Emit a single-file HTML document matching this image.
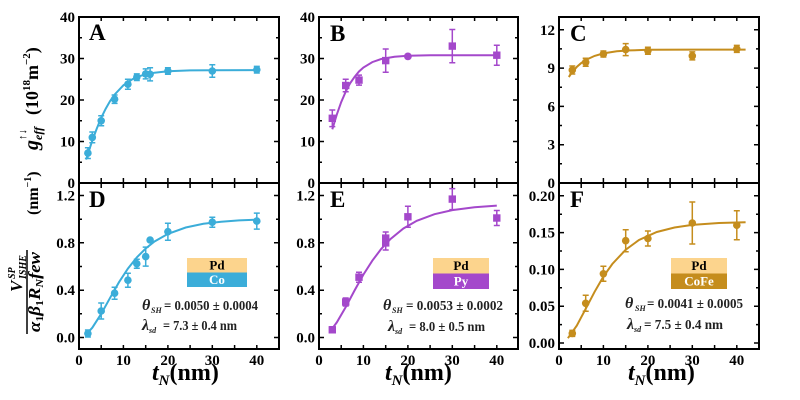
<!DOCTYPE html>
<html><head><meta charset="utf-8"><style>
html,body{margin:0;padding:0;background:#fff;}
svg{display:block;font-family:"Liberation Serif",serif;font-weight:bold;}
</style></head><body>
<svg width="800" height="400" viewBox="0 0 800 400" xmlns="http://www.w3.org/2000/svg">
<rect width="800" height="400" fill="#fff"/>

<!-- ============ CURVES & DATA ============ -->
<!-- A -->
<g stroke="#3BADD9" fill="#3BADD9">
<polyline fill="none" stroke-width="2" points="86.1,159.6 87.9,154 92.3,140.6 96.8,128.5 101.2,117.8 105.7,108.7 110.1,101 114.6,94.6 123.4,85.3 132.3,79.3 141.2,75.6 154.5,72.7 167.9,71.3 190.1,70.4 212.3,70.2 256.8,70.1"/>
<path stroke-width="1.5" fill="none" d="M87.9,147.7V158.5M84.9,147.7H90.9M84.9,158.5H90.9 M92.3,132V142.8M89.3,132H95.3M89.3,142.8H95.3 M101.2,115.8V125.8M98.2,115.8H104.2M98.2,125.8H104.2 M114.6,95V103.4M111.6,95H117.6M111.6,103.4H117.6 M127.9,79.2V89.2M124.9,79.2H130.9M124.9,89.2H130.9 M136.8,73.9V80.5M133.8,73.9H139.8M133.8,80.5H139.8 M145.7,68.9V78.9M142.7,68.9H148.7M142.7,78.9H148.7 M150.1,67.7V80.9M147.1,67.7H153.1M147.1,80.9H153.1 M167.9,67.7V74.3M164.9,67.7H170.9M164.9,74.3H170.9 M212.3,64.8V77.2M209.3,64.8H215.3M209.3,77.2H215.3 M256.8,66.4V73M253.8,66.4H259.8M253.8,73H259.8"/>
<g stroke="none">
<circle cx="87.9" cy="153.1" r="3.8"/><circle cx="92.3" cy="137.4" r="3.8"/><circle cx="101.2" cy="120.8" r="3.8"/><circle cx="114.6" cy="99.2" r="3.8"/><circle cx="127.9" cy="84.2" r="3.8"/><circle cx="136.8" cy="77.2" r="3.8"/><circle cx="145.7" cy="73.9" r="3.8"/><circle cx="150.1" cy="74.3" r="3.8"/><circle cx="167.9" cy="71" r="3.8"/><circle cx="212.3" cy="71" r="3.8"/><circle cx="256.8" cy="69.7" r="3.8"/>
</g></g>

<!-- B -->
<g stroke="#A448CB" fill="#A448CB">
<polyline fill="none" stroke-width="2" points="332.3,129.3 336.8,114.6 341.2,102.1 345.7,91.7 350.1,83.3 354.6,76.8 359,71.5 363.4,67.5 372.3,62.1 381.2,59 394.5,56.8 407.9,55.8 430.1,55.3 452.3,55.2 496.8,55.2"/>
<path stroke-width="1.5" fill="none" d="M332.3,110V126.6M329.3,110H335.3M329.3,126.6H335.3 M345.7,79.3V91.7M342.7,79.3H348.7M342.7,91.7H348.7 M359,75.1V85.1M356,75.1H362M356,85.1H362 M385.7,49V72.2M382.7,49H388.7M382.7,72.2H388.7 M452.3,29.5V62.7M449.3,29.5H455.3M449.3,62.7H455.3 M496.8,45.2V65.2M493.8,45.2H499.8M493.8,65.2H499.8"/>
<g stroke="none">
<rect x="328.6" y="114.6" width="7.4" height="7.4"/><rect x="342" y="81.8" width="7.4" height="7.4"/><rect x="355.3" y="76.4" width="7.4" height="7.4"/><rect x="382" y="56.9" width="7.4" height="7.4"/><circle cx="407.9" cy="56.4" r="3.9"/><rect x="448.6" y="42.4" width="7.4" height="7.4"/><rect x="493.1" y="51.5" width="7.4" height="7.4"/>
</g></g>

<!-- C -->
<g stroke="#C58D1D" fill="#C58D1D">
<polyline fill="none" stroke-width="2" points="568.8,77 572.3,71.9 576.8,66.9 581.2,63.1 585.7,60 594.6,55.9 603.4,53.4 616.8,51.3 630.1,50.4 647.9,49.8 692.3,49.6 745.6,49.6"/>
<path stroke-width="1.5" fill="none" d="M572.3,66V74M569.3,66H575.3M569.3,74H575.3 M585.7,58.3V66.3M582.7,58.3H588.7M582.7,66.3H588.7 M603.4,51V57M600.4,51H606.4M600.4,57H606.4 M625.7,43.6V55.6M622.7,43.6H628.7M622.7,55.6H628.7 M647.9,47.3V54.3M644.9,47.3H650.9M644.9,54.3H650.9 M692.3,51.9V59.9M689.3,51.9H695.3M689.3,59.9H695.3 M736.8,45.4V52.4M733.8,45.4H739.8M733.8,52.4H739.8"/>
<g stroke="none">
<circle cx="572.3" cy="70" r="3.8"/><circle cx="585.7" cy="62.3" r="3.8"/><circle cx="603.4" cy="54" r="3.8"/><circle cx="625.7" cy="49.6" r="3.8"/><circle cx="647.9" cy="50.8" r="3.8"/><circle cx="692.3" cy="55.9" r="3.8"/><circle cx="736.8" cy="48.9" r="3.8"/>
</g></g>

<!-- D -->
<g stroke="#3BADD9" fill="#3BADD9">
<polyline fill="none" stroke-width="2" points="86.6,333.9 92.3,327.7 101.2,313.8 110.1,297.8 119,282.2 127.9,268.6 136.8,257.4 145.7,248.5 154.5,241.5 167.9,233.9 185.7,227.5 203.4,223.8 221.2,221.7 239,220.4 256.8,219.7"/>
<path stroke-width="1.5" fill="none" d="M87.9,330V337M84.9,330H90.9M84.9,337H90.9 M101.2,303V319M98.2,303H104.2M98.2,319H104.2 M114.6,287.2V299.2M111.6,287.2H117.6M111.6,299.2H117.6 M127.9,273.2V287.2M124.9,273.2H130.9M124.9,287.2H130.9 M136.8,259.2V268.2M133.8,259.2H139.8M133.8,268.2H139.8 M145.7,247.1V266.1M142.7,247.1H148.7M142.7,266.1H148.7 M167.9,223.2V240.2M164.9,223.2H170.9M164.9,240.2H170.9 M212.3,217.2V227.2M209.3,217.2H215.3M209.3,227.2H215.3 M256.8,213.1V229.1M253.8,213.1H259.8M253.8,229.1H259.8"/>
<g stroke="none">
<circle cx="87.9" cy="333.5" r="3.8"/><circle cx="101.2" cy="311" r="3.8"/><circle cx="114.6" cy="293.2" r="3.8"/><circle cx="127.9" cy="280.2" r="3.8"/><circle cx="136.8" cy="263.7" r="3.8"/><circle cx="145.7" cy="256.6" r="3.8"/><circle cx="150.1" cy="240" r="3.8"/><circle cx="167.9" cy="231.7" r="3.8"/><circle cx="212.3" cy="222.2" r="3.8"/><circle cx="256.8" cy="221.1" r="3.8"/>
</g></g>

<!-- E -->
<g stroke="#A448CB" fill="#A448CB">
<polyline fill="none" stroke-width="2" points="331,330.2 336.8,322.4 345.7,307.1 354.6,290.4 363.4,274.6 372.3,260.7 381.2,248.9 390.1,239.4 403.4,228.5 416.8,220.8 434.5,214.2 452.3,210.1 474.5,207.2 496.8,205.6"/>
<path stroke-width="1.5" fill="none" d="M332.3,326.8V332.8M329.3,326.8H335.3M329.3,332.8H335.3 M345.7,298V306M342.7,298H348.7M342.7,306H348.7 M359,272.2V282.2M356,272.2H362M356,282.2H362 M385.7,232V250M382.7,232H388.7M382.7,250H388.7 M407.9,206.3V227.3M404.9,206.3H410.9M404.9,227.3H410.9 M452.3,188.6V209.6M449.3,188.6H455.3M449.3,209.6H455.3 M496.8,210.5V225.5M493.8,210.5H499.8M493.8,225.5H499.8"/>
<g stroke="none">
<rect x="328.6" y="326.1" width="7.4" height="7.4"/><rect x="342" y="298.3" width="7.4" height="7.4"/><rect x="355.3" y="273.5" width="7.4" height="7.4"/><rect x="382" y="239.2" width="7.4" height="7.4"/><rect x="382" y="234.4" width="7.4" height="7.4"/><rect x="404.2" y="213.1" width="7.4" height="7.4"/><rect x="448.6" y="195.4" width="7.4" height="7.4"/><rect x="493.1" y="214.3" width="7.4" height="7.4"/>
</g></g>

<!-- F -->
<g stroke="#C58D1D" fill="#C58D1D">
<polyline fill="none" stroke-width="2" points="567.9,338.2 576.8,325.6 585.7,308.8 594.6,291.8 603.4,276.6 612.3,264 625.7,249.7 639,240 656.8,232 674.5,227.5 692.3,224.9 719,223 745.6,222.2"/>
<path stroke-width="1.5" fill="none" d="M572.3,330.4V336.4M569.3,330.4H575.3M569.3,336.4H575.3 M585.7,295.3V311.3M582.7,295.3H588.7M582.7,311.3H588.7 M603.4,266.3V281.3M600.4,266.3H606.4M600.4,281.3H606.4 M625.7,229.7V251.7M622.7,229.7H628.7M622.7,251.7H628.7 M647.9,231V246M644.9,231H650.9M644.9,246H650.9 M692.3,202V244M689.3,202H695.3M689.3,244H695.3 M736.8,210.7V239.7M733.8,210.7H739.8M733.8,239.7H739.8"/>
<g stroke="none">
<circle cx="572.3" cy="333.4" r="3.8"/><circle cx="585.7" cy="303.3" r="3.8"/><circle cx="603.4" cy="273.8" r="3.8"/><circle cx="625.7" cy="240.7" r="3.8"/><circle cx="647.9" cy="238.5" r="3.8"/><circle cx="692.3" cy="223" r="3.8"/><circle cx="736.8" cy="225.2" r="3.8"/>
</g></g>

<!-- ============ FRAMES & TICKS ============ -->
<g fill="none" stroke="#000" stroke-width="2">
<rect x="79" y="17" width="200" height="332"/>
<rect x="319" y="17" width="199" height="332"/>
<rect x="559" y="17" width="200" height="332"/>
<path d="M79,183H279M319,183H518M559,183H759"/>
</g>
<g fill="none" stroke="#000" stroke-width="1.5">
<!-- x ticks: top edges, middle (both sides), bottom -->
<path d="M101.2,17v4M123.4,17v4M145.7,17v4M167.9,17v4M190.1,17v4M212.3,17v4M234.6,17v4M256.8,17v4
M101.2,178v10M123.4,178v10M145.7,178v10M167.9,178v10M190.1,178v10M212.3,178v10M234.6,178v10M256.8,178v10
M101.2,349v-4M123.4,349v-4M145.7,349v-4M167.9,349v-4M190.1,349v-4M212.3,349v-4M234.6,349v-4M256.8,349v-4"/>
<path d="M341.2,17v4M363.4,17v4M385.7,17v4M407.9,17v4M430.1,17v4M452.3,17v4M474.6,17v4M496.8,17v4
M341.2,178v10M363.4,178v10M385.7,178v10M407.9,178v10M430.1,178v10M452.3,178v10M474.6,178v10M496.8,178v10
M341.2,349v-4M363.4,349v-4M385.7,349v-4M407.9,349v-4M430.1,349v-4M452.3,349v-4M474.6,349v-4M496.8,349v-4"/>
<path d="M581.2,17v4M603.4,17v4M625.7,17v4M647.9,17v4M670.1,17v4M692.3,17v4M714.6,17v4M736.8,17v4
M581.2,178v10M603.4,178v10M625.7,178v10M647.9,178v10M670.1,178v10M692.3,178v10M714.6,178v10M736.8,178v10
M581.2,349v-4M603.4,349v-4M625.7,349v-4M647.9,349v-4M670.1,349v-4M692.3,349v-4M714.6,349v-4M736.8,349v-4"/>
<!-- y ticks A/B -->
<path d="M79,162.25h3M79,141.5h5M79,120.75h3M79,100h5M79,79.25h3M79,58.5h5M79,37.75h3
M279,162.25h-3M279,141.5h-5M279,120.75h-3M279,100h-5M279,79.25h-3M279,58.5h-5M279,37.75h-3
M319,162.25h3M319,141.5h5M319,120.75h3M319,100h5M319,79.25h3M319,58.5h5M319,37.75h3
M518,162.25h-3M518,141.5h-5M518,120.75h-3M518,100h-5M518,79.25h-3M518,58.5h-5M518,37.75h-3"/>
<!-- y ticks C -->
<path d="M559,163.8h3M559,144.7h5M559,125.5h3M559,106.4h5M559,87.2h3M559,68.1h5M559,48.9h3M559,29.8h5
M759,163.8h-3M759,144.7h-5M759,125.5h-3M759,106.4h-5M759,87.2h-3M759,68.1h-5M759,48.9h-3M759,29.8h-5"/>
<!-- y ticks D/E -->
<path d="M79,337.5h5M79,313.8h3M79,290.2h5M79,266.5h3M79,242.8h5M79,219.2h3M79,195.5h5
M279,337.5h-5M279,313.8h-3M279,290.2h-5M279,266.5h-3M279,242.8h-5M279,219.2h-3M279,195.5h-5
M319,337.5h5M319,313.8h3M319,290.2h5M319,266.5h3M319,242.8h5M319,219.2h3M319,195.5h5
M518,337.5h-5M518,313.8h-3M518,290.2h-5M518,266.5h-3M518,242.8h-5M518,219.2h-3M518,195.5h-5"/>
<!-- y ticks F -->
<path d="M559,343h5M559,324.6h3M559,306.2h5M559,287.8h3M559,269.4h5M559,251h3M559,232.6h5M559,214.2h3M559,195.8h5
M759,343h-5M759,324.6h-3M759,306.2h-5M759,287.8h-3M759,269.4h-5M759,251h-3M759,232.6h-5M759,214.2h-3M759,195.8h-5"/>
</g>

<!-- ============ TICK LABELS ============ -->
<g font-size="15" fill="#000" text-anchor="end">
<text x="75" y="188">0</text><text x="75" y="146.5">10</text><text x="75" y="105">20</text><text x="75" y="63.5">30</text><text x="75" y="22">40</text>
<text x="315" y="188">0</text><text x="315" y="146.5">10</text><text x="315" y="105">20</text><text x="315" y="63.5">30</text><text x="315" y="22">40</text>
<text x="555" y="188">0</text><text x="555" y="149.7">3</text><text x="555" y="111.4">6</text><text x="555" y="73.1">9</text><text x="555" y="34.8">12</text>
<text x="75" y="342.5">0.0</text><text x="75" y="295.2">0.4</text><text x="75" y="247.8">0.8</text><text x="75" y="200.5">1.2</text>
<text x="315" y="342.5">0.0</text><text x="315" y="295.2">0.4</text><text x="315" y="247.8">0.8</text><text x="315" y="200.5">1.2</text>
<text x="555" y="348">0.00</text><text x="555" y="311.2">0.05</text><text x="555" y="274.4">0.10</text><text x="555" y="237.6">0.15</text><text x="555" y="200.8">0.20</text>
</g>
<g font-size="15" fill="#000" text-anchor="middle">
<text x="79" y="365">0</text><text x="123.4" y="365">10</text><text x="167.9" y="365">20</text><text x="212.3" y="365">30</text><text x="256.8" y="365">40</text>
<text x="319" y="365">0</text><text x="363.4" y="365">10</text><text x="407.9" y="365">20</text><text x="452.3" y="365">30</text><text x="496.8" y="365">40</text>
<text x="559" y="365">0</text><text x="603.4" y="365">10</text><text x="647.9" y="365">20</text><text x="692.3" y="365">30</text><text x="736.8" y="365">40</text>
</g>

<!-- panel letters -->
<g font-size="23" fill="#000">
<text x="89" y="40">A</text><text x="330" y="41">B</text><text x="570" y="41">C</text>
<text x="89" y="207">D</text><text x="330" y="207">E</text><text x="570" y="207">F</text>
</g>

<!-- x axis titles -->
<g fill="#000">
<text x="152" y="380" font-size="24"><tspan font-style="italic">t</tspan><tspan font-style="italic" font-size="15" dy="5">N</tspan><tspan dy="-5">(nm)</tspan></text>
<text x="385" y="380" font-size="24"><tspan font-style="italic">t</tspan><tspan font-style="italic" font-size="15" dy="5">N</tspan><tspan dy="-5">(nm)</tspan></text>
<text x="628" y="380" font-size="24"><tspan font-style="italic">t</tspan><tspan font-style="italic" font-size="15" dy="5">N</tspan><tspan dy="-5">(nm)</tspan></text>
</g>

<!-- y axis title top -->
<g transform="translate(38,150) rotate(-90)" fill="#000">
<text x="0" y="0" font-size="20" font-style="italic">g</text>
<text x="10" y="4" font-size="12" font-style="italic">eff</text>
<text x="10" y="-12" font-size="11">↑↓</text>
<text x="35" y="0" font-size="18">(10<tspan font-size="11" dy="-8">18</tspan><tspan dy="8">m</tspan><tspan font-size="11" dy="-8">−2</tspan><tspan dy="8">)</tspan></text>
</g>

<!-- y axis title bottom (fraction) -->
<g transform="translate(27,292) rotate(-90)" fill="#000">
<line x1="-42" y1="0" x2="42" y2="0" stroke="#000" stroke-width="1.5"/>
<text x="-40" y="13" font-size="17" font-style="italic" textLength="80" lengthAdjust="spacingAndGlyphs">α<tspan font-size="11" font-style="normal" dy="3">1</tspan><tspan dy="-3">β</tspan><tspan font-size="11" font-style="normal" dy="3">1</tspan><tspan dy="-3">R</tspan><tspan font-size="11" dy="3">N</tspan><tspan dy="-3">few</tspan></text>
<text x="0" y="-5" font-size="17" font-style="italic">V</text>
<text x="13" y="-1" font-size="10" font-style="italic">ISHE</text>
<text x="13" y="-12" font-size="10" font-style="italic">SP</text>
<text x="77" y="11" font-size="16">(nm<tspan font-size="10" dy="-7">−1</tspan><tspan dy="7">)</tspan></text>
</g>

<!-- legends -->
<g font-size="13" text-anchor="middle">
<rect x="187" y="258" width="60" height="14.5" fill="#FCD48D"/>
<rect x="187" y="272.5" width="60" height="14.5" fill="#3BADD9"/>
<text x="217" y="269.5" fill="#000">Pd</text><text x="217" y="284" fill="#fff">Co</text>
<rect x="433" y="258" width="56" height="15.5" fill="#FCD48D"/>
<rect x="433" y="273.5" width="56" height="15.5" fill="#A448CB"/>
<text x="461" y="270" fill="#000">Pd</text><text x="461" y="285.5" fill="#fff">Py</text>
<rect x="671" y="258" width="56" height="15.5" fill="#FCD48D"/>
<rect x="671" y="273.5" width="56" height="15.5" fill="#C58D1D"/>
<text x="699" y="270" fill="#000">Pd</text><text x="699" y="285.5" fill="#fff">CoFe</text>
</g>

<!-- parameter text -->
<g fill="#222">
<text x="142" y="310" font-size="16" font-style="italic">θ</text><text x="151" y="313" font-size="8" font-style="italic">SH</text>
<text x="164" y="310" font-size="14" textLength="94" lengthAdjust="spacingAndGlyphs">= 0.0050 ± 0.0004</text>
<text x="142" y="330" font-size="16" font-style="italic">λ</text><text x="149" y="333" font-size="8" font-style="italic">sd</text>
<text x="163" y="330" font-size="14" textLength="74" lengthAdjust="spacingAndGlyphs">= 7.3 ± 0.4 nm</text>

<text x="383" y="310" font-size="16" font-style="italic">θ</text><text x="392" y="313" font-size="8" font-style="italic">SH</text>
<text x="406" y="310" font-size="14" textLength="97" lengthAdjust="spacingAndGlyphs">= 0.0053 ± 0.0002</text>
<text x="388" y="331" font-size="16" font-style="italic">λ</text><text x="395" y="334" font-size="8" font-style="italic">sd</text>
<text x="409" y="331" font-size="14" textLength="76" lengthAdjust="spacingAndGlyphs">= 8.0 ± 0.5 nm</text>

<text x="625" y="308" font-size="16" font-style="italic">θ</text><text x="635" y="311" font-size="8" font-style="italic">SH</text>
<text x="647" y="308" font-size="14" textLength="96" lengthAdjust="spacingAndGlyphs">= 0.0041 ± 0.0005</text>
<text x="627" y="329" font-size="16" font-style="italic">λ</text><text x="634" y="332" font-size="8" font-style="italic">sd</text>
<text x="644" y="329" font-size="14" textLength="79" lengthAdjust="spacingAndGlyphs">= 7.5 ± 0.4 nm</text>
</g>
</svg>
</body></html>
